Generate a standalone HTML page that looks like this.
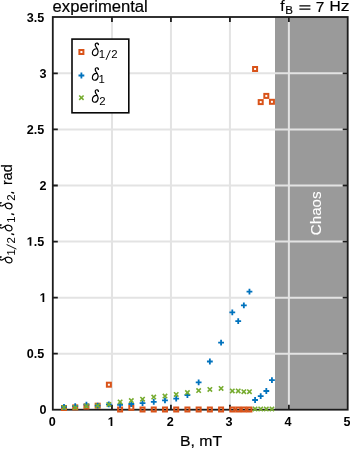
<!DOCTYPE html>
<html><head><meta charset="utf-8"><style>
html,body{margin:0;padding:0;background:#fff;width:350px;height:449px;overflow:hidden}
svg{display:block;will-change:transform}
text{font-family:"Liberation Sans",sans-serif}
</style></head><body>
<svg width="350" height="449" viewBox="0 0 350 449">
<rect x="275.0" y="17.0" width="72.69999999999999" height="392.7" fill="#9a9a9a"/>
<g stroke="#e3e3e3" stroke-width="2" fill="none">
<path d="M111.97 17.0V409.7"/>
<path d="M170.94 17.0V409.7"/>
<path d="M229.91 17.0V409.7"/>
<path d="M288.88 17.0V409.7"/>
<path d="M52.8 353.72H347.7"/>
<path d="M52.8 297.64H347.7"/>
<path d="M52.8 241.56H347.7"/>
<path d="M52.8 185.48H347.7"/>
<path d="M52.8 129.40H347.7"/>
<path d="M52.8 73.32H347.7"/>
</g>
<text transform="translate(320.8 213.3) rotate(-90)" text-anchor="middle" font-family="Liberation Sans" font-size="15.2" fill="#fff" stroke="#fff" stroke-width="0.1">Chaos</text>
<g stroke="#1c1c1c" stroke-width="1.8" fill="none">
<rect x="52.8" y="17.0" width="294.90" height="392.70"/>
<path d="M111.97 409.7v-5.0M111.97 17.0v5.0"/>
<path d="M170.94 409.7v-5.0M170.94 17.0v5.0"/>
<path d="M229.91 409.7v-5.0M229.91 17.0v5.0"/>
<path d="M288.88 409.7v-5.0M288.88 17.0v5.0"/>
<path d="M52.8 353.72h5.0M347.7 353.72h-5.0"/>
<path d="M52.8 297.64h5.0M347.7 297.64h-5.0"/>
<path d="M52.8 241.56h5.0M347.7 241.56h-5.0"/>
<path d="M52.8 185.48h5.0M347.7 185.48h-5.0"/>
<path d="M52.8 129.40h5.0M347.7 129.40h-5.0"/>
<path d="M52.8 73.32h5.0M347.7 73.32h-5.0"/>
</g>
<g fill="none" stroke="#D95319" stroke-width="2.0"><rect x="62.00" y="406.00" width="4.0" height="4.0"/><rect x="73.22" y="405.40" width="4.0" height="4.0"/><rect x="84.44" y="404.50" width="4.0" height="4.0"/><rect x="95.66" y="403.70" width="4.0" height="4.0"/><rect x="106.88" y="382.70" width="4.0" height="4.0"/><rect x="118.10" y="407.50" width="4.0" height="4.0"/><rect x="129.32" y="405.80" width="4.0" height="4.0"/><rect x="140.54" y="407.50" width="4.0" height="4.0"/><rect x="151.76" y="407.50" width="4.0" height="4.0"/><rect x="162.98" y="407.50" width="4.0" height="4.0"/><rect x="174.20" y="407.50" width="4.0" height="4.0"/><rect x="185.42" y="407.50" width="4.0" height="4.0"/><rect x="196.64" y="407.50" width="4.0" height="4.0"/><rect x="207.86" y="407.50" width="4.0" height="4.0"/><rect x="219.08" y="407.50" width="4.0" height="4.0"/><rect x="230.30" y="407.50" width="4.0" height="4.0"/><rect x="236.22" y="407.50" width="4.0" height="4.0"/><rect x="241.84" y="407.50" width="4.0" height="4.0"/><rect x="247.46" y="407.50" width="4.0" height="4.0"/><rect x="253.08" y="67.00" width="4.0" height="4.0"/><rect x="258.70" y="100.10" width="4.0" height="4.0"/><rect x="264.32" y="93.90" width="4.0" height="4.0"/><rect x="269.94" y="99.80" width="4.0" height="4.0"/></g>
<g fill="none" stroke="#0072BD" stroke-width="1.8"><path d="M61.10 406.80H66.90M64.00 403.90V409.70"/><path d="M72.32 406.20H78.12M75.22 403.30V409.10"/><path d="M83.54 404.70H89.34M86.44 401.80V407.60"/><path d="M94.76 405.70H100.56M97.66 402.80V408.60"/><path d="M105.98 404.40H111.78M108.88 401.50V407.30"/><path d="M117.20 404.90H123.00M120.10 402.00V407.80"/><path d="M128.42 404.00H134.22M131.32 401.10V406.90"/><path d="M139.64 403.10H145.44M142.54 400.20V406.00"/><path d="M150.86 401.90H156.66M153.76 399.00V404.80"/><path d="M162.08 400.30H167.88M164.98 397.40V403.20"/><path d="M173.30 398.60H179.10M176.20 395.70V401.50"/><path d="M184.52 395.00H190.32M187.42 392.10V397.90"/><path d="M195.74 382.30H201.54M198.64 379.40V385.20"/><path d="M206.96 361.50H212.76M209.86 358.60V364.40"/><path d="M218.18 342.70H223.98M221.08 339.80V345.60"/><path d="M229.40 312.30H235.20M232.30 309.40V315.20"/><path d="M235.32 321.10H241.12M238.22 318.20V324.00"/><path d="M240.94 305.30H246.74M243.84 302.40V308.20"/><path d="M246.56 291.70H252.36M249.46 288.80V294.60"/><path d="M252.18 400.00H257.98M255.08 397.10V402.90"/><path d="M257.80 396.10H263.60M260.70 393.20V399.00"/><path d="M263.42 391.00H269.22M266.32 388.10V393.90"/><path d="M269.04 380.10H274.84M271.94 377.20V383.00"/></g>
<g fill="none" stroke="#77AC30" stroke-width="1.6"><path d="M61.80 405.30L66.20 409.70M61.80 409.70L66.20 405.30"/><path d="M73.02 405.20L77.42 409.60M73.02 409.60L77.42 405.20"/><path d="M84.24 403.70L88.64 408.10M84.24 408.10L88.64 403.70"/><path d="M95.46 403.50L99.86 407.90M95.46 407.90L99.86 403.50"/><path d="M106.68 402.20L111.08 406.60M106.68 406.60L111.08 402.20"/><path d="M117.90 399.70L122.30 404.10M117.90 404.10L122.30 399.70"/><path d="M129.12 398.40L133.52 402.80M129.12 402.80L133.52 398.40"/><path d="M140.34 397.00L144.74 401.40M140.34 401.40L144.74 397.00"/><path d="M151.56 394.90L155.96 399.30M151.56 399.30L155.96 394.90"/><path d="M162.78 393.90L167.18 398.30M162.78 398.30L167.18 393.90"/><path d="M174.00 392.20L178.40 396.60M174.00 396.60L178.40 392.20"/><path d="M185.22 390.40L189.62 394.80M185.22 394.80L189.62 390.40"/><path d="M196.44 388.40L200.84 392.80M196.44 392.80L200.84 388.40"/><path d="M207.66 387.20L212.06 391.60M207.66 391.60L212.06 387.20"/><path d="M218.88 386.20L223.28 390.60M218.88 390.60L223.28 386.20"/><path d="M230.10 388.70L234.50 393.10M230.10 393.10L234.50 388.70"/><path d="M236.02 388.70L240.42 393.10M236.02 393.10L240.42 388.70"/><path d="M241.64 389.50L246.04 393.90M241.64 393.90L246.04 389.50"/><path d="M247.26 389.50L251.66 393.90M247.26 393.90L251.66 389.50"/><path d="M252.88 406.70L257.28 411.10M252.88 411.10L257.28 406.70"/><path d="M258.50 406.70L262.90 411.10M258.50 411.10L262.90 406.70"/><path d="M264.12 406.70L268.52 411.10M264.12 411.10L268.52 406.70"/><path d="M269.74 406.70L274.14 411.10M269.74 411.10L274.14 406.70"/></g>
<g font-family="Liberation Sans" font-weight="bold" font-size="12.6" fill="#000">
<text x="39.59" y="414.10">0</text>
<text x="26.69" y="358.02">0.5</text>
<path transform="translate(39.59 301.94) scale(0.006152 -0.006152)" d="M478 0L478 1170L140 959L140 1180L493 1409L759 1409L759 0Z"/>
<path transform="translate(26.69 245.86) scale(0.006152 -0.006152)" d="M478 0L478 1170L140 959L140 1180L493 1409L759 1409L759 0Z"/><text x="33.69" y="245.86">.5</text>
<text x="39.59" y="189.78">2</text>
<text x="26.69" y="133.70">2.5</text>
<text x="39.59" y="77.62">3</text>
<text x="26.69" y="21.54">3.5</text>
<text x="48.70" y="426.00">0</text>
<path transform="translate(107.67 426.00) scale(0.006152 -0.006152)" d="M478 0L478 1170L140 959L140 1180L493 1409L759 1409L759 0Z"/>
<text x="166.64" y="426.00">2</text>
<text x="225.61" y="426.00">3</text>
<text x="284.58" y="426.00">4</text>
<text x="343.55" y="426.00">5</text>
</g>
<text x="52.6" y="11.7" font-family="Liberation Sans" font-size="16" textLength="95.2" lengthAdjust="spacingAndGlyphs" fill="#000" stroke="#000" stroke-width="0.2">experimental</text>
<g font-family="Liberation Sans" font-size="15.5" fill="#000" stroke="#000" stroke-width="0.2">
<text x="280.3" y="11.4">f</text>
<text x="285.3" y="13.6" font-size="11.5">B</text>
<path d="M299.4 5.9H310.4M299.4 9.1H310.4" stroke="#000" stroke-width="1.3"/>
<text x="315.8" y="11.6">7</text>
<text x="329.4" y="11.4" textLength="11.2" lengthAdjust="spacingAndGlyphs">H</text>
<text x="340.8" y="11.4" textLength="8.8" lengthAdjust="spacingAndGlyphs">z</text>
</g>
<text x="180.0" y="446.2" font-family="Liberation Sans" font-size="14.7" textLength="42.2" lengthAdjust="spacingAndGlyphs" fill="#000" stroke="#000" stroke-width="0.2">B, mT</text>
<rect x="72.0" y="39.1" width="56.80000000000001" height="73.69999999999999" fill="#fff" stroke="#080808" stroke-width="1.6"/>
<g fill="none" stroke="#D95319" stroke-width="2.0"><rect x="79.40" y="50.00" width="4.0" height="4.0"/></g>
<g fill="none" stroke="#0072BD" stroke-width="1.8"><path d="M78.50 75.50H84.30M81.40 72.60V78.40"/></g>
<g fill="none" stroke="#77AC30" stroke-width="1.6"><path d="M79.20 95.50L83.60 99.90M79.20 99.90L83.60 95.50"/></g>
<g transform="translate(11.9 263.5) rotate(-90)" fill="#000">
<g transform="translate(0.2 0) scale(1.0)"><path d="M6.4 -11.0 C6.1 -12.3 4.6 -12.7 3.8 -11.9 C3.0 -11.1 3.2 -9.7 4.0 -8.5 L5.3 -6.5 C6.1 -5.2 6.3 -3.7 5.85 -2.3 C5.35 -0.7 4.1 0.15 2.7 0.15 C1.1 0.15 0.25 -1.1 0.4 -2.8 C0.6 -4.9 2.3 -6.6 4.7 -6.7" fill="none" stroke="#000" stroke-width="1.150" stroke-linecap="round"/><circle cx="6.35" cy="-10.95" r="0.750" fill="#000"/></g>
<text x="8.00" y="2.8" font-family="Liberation Serif" font-size="11.4">1</text>
<path d="M14.40 4.5L19.00 -5.3" stroke="#000" stroke-width="0.95" fill="none"/>
<text x="20.10" y="2.8" font-family="Liberation Serif" font-size="11.4">2</text>
<path d="M29.60 -0.2L29.00 1.7" stroke="#000" stroke-width="1.35" stroke-linecap="round" fill="none"/>
<g transform="translate(32.2 0) scale(1.0)"><path d="M6.4 -11.0 C6.1 -12.3 4.6 -12.7 3.8 -11.9 C3.0 -11.1 3.2 -9.7 4.0 -8.5 L5.3 -6.5 C6.1 -5.2 6.3 -3.7 5.85 -2.3 C5.35 -0.7 4.1 0.15 2.7 0.15 C1.1 0.15 0.25 -1.1 0.4 -2.8 C0.6 -4.9 2.3 -6.6 4.7 -6.7" fill="none" stroke="#000" stroke-width="1.150" stroke-linecap="round"/><circle cx="6.35" cy="-10.95" r="0.750" fill="#000"/></g>
<text x="40.70" y="2.8" font-family="Liberation Serif" font-size="11.4">1</text>
<path d="M49.60 -0.2L49.00 1.7" stroke="#000" stroke-width="1.35" stroke-linecap="round" fill="none"/>
<g transform="translate(54.3 0) scale(1.0)"><path d="M6.4 -11.0 C6.1 -12.3 4.6 -12.7 3.8 -11.9 C3.0 -11.1 3.2 -9.7 4.0 -8.5 L5.3 -6.5 C6.1 -5.2 6.3 -3.7 5.85 -2.3 C5.35 -0.7 4.1 0.15 2.7 0.15 C1.1 0.15 0.25 -1.1 0.4 -2.8 C0.6 -4.9 2.3 -6.6 4.7 -6.7" fill="none" stroke="#000" stroke-width="1.150" stroke-linecap="round"/><circle cx="6.35" cy="-10.95" r="0.750" fill="#000"/></g>
<text x="62.70" y="2.8" font-family="Liberation Serif" font-size="11.4">2</text>
<path d="M71.10 -0.2L70.50 1.7" stroke="#000" stroke-width="1.35" stroke-linecap="round" fill="none"/>
<text x="78.6" y="0" font-family="Liberation Sans" font-size="15" textLength="20.6" lengthAdjust="spacingAndGlyphs" stroke="#000" stroke-width="0.2">rad</text>
</g>
<g transform="translate(92 55.4)"><g transform="translate(0 0) scale(1.0)"><path d="M6.4 -11.0 C6.1 -12.3 4.6 -12.7 3.8 -11.9 C3.0 -11.1 3.2 -9.7 4.0 -8.5 L5.3 -6.5 C6.1 -5.2 6.3 -3.7 5.85 -2.3 C5.35 -0.7 4.1 0.15 2.7 0.15 C1.1 0.15 0.25 -1.1 0.4 -2.8 C0.6 -4.9 2.3 -6.6 4.7 -6.7" fill="none" stroke="#000" stroke-width="1.150" stroke-linecap="round"/><circle cx="6.35" cy="-10.95" r="0.750" fill="#000"/></g><text x="6.80" y="2.7" font-family="Liberation Serif" font-size="11.4">1</text><path d="M14.00 4.5L18.30 -5.3" stroke="#000" stroke-width="0.95" fill="none"/><text x="19.30" y="2.7" font-family="Liberation Serif" font-size="11.4">2</text></g>
<g transform="translate(92 80.1)"><g transform="translate(0 0) scale(1.0)"><path d="M6.4 -11.0 C6.1 -12.3 4.6 -12.7 3.8 -11.9 C3.0 -11.1 3.2 -9.7 4.0 -8.5 L5.3 -6.5 C6.1 -5.2 6.3 -3.7 5.85 -2.3 C5.35 -0.7 4.1 0.15 2.7 0.15 C1.1 0.15 0.25 -1.1 0.4 -2.8 C0.6 -4.9 2.3 -6.6 4.7 -6.7" fill="none" stroke="#000" stroke-width="1.150" stroke-linecap="round"/><circle cx="6.35" cy="-10.95" r="0.750" fill="#000"/></g><text x="6.40" y="2.7" font-family="Liberation Serif" font-size="11.4">1</text></g>
<g transform="translate(92 102.1)"><g transform="translate(0 0) scale(1.0)"><path d="M6.4 -11.0 C6.1 -12.3 4.6 -12.7 3.8 -11.9 C3.0 -11.1 3.2 -9.7 4.0 -8.5 L5.3 -6.5 C6.1 -5.2 6.3 -3.7 5.85 -2.3 C5.35 -0.7 4.1 0.15 2.7 0.15 C1.1 0.15 0.25 -1.1 0.4 -2.8 C0.6 -4.9 2.3 -6.6 4.7 -6.7" fill="none" stroke="#000" stroke-width="1.150" stroke-linecap="round"/><circle cx="6.35" cy="-10.95" r="0.750" fill="#000"/></g><text x="7.30" y="2.7" font-family="Liberation Serif" font-size="11.4">2</text></g>
</svg>
</body></html>
